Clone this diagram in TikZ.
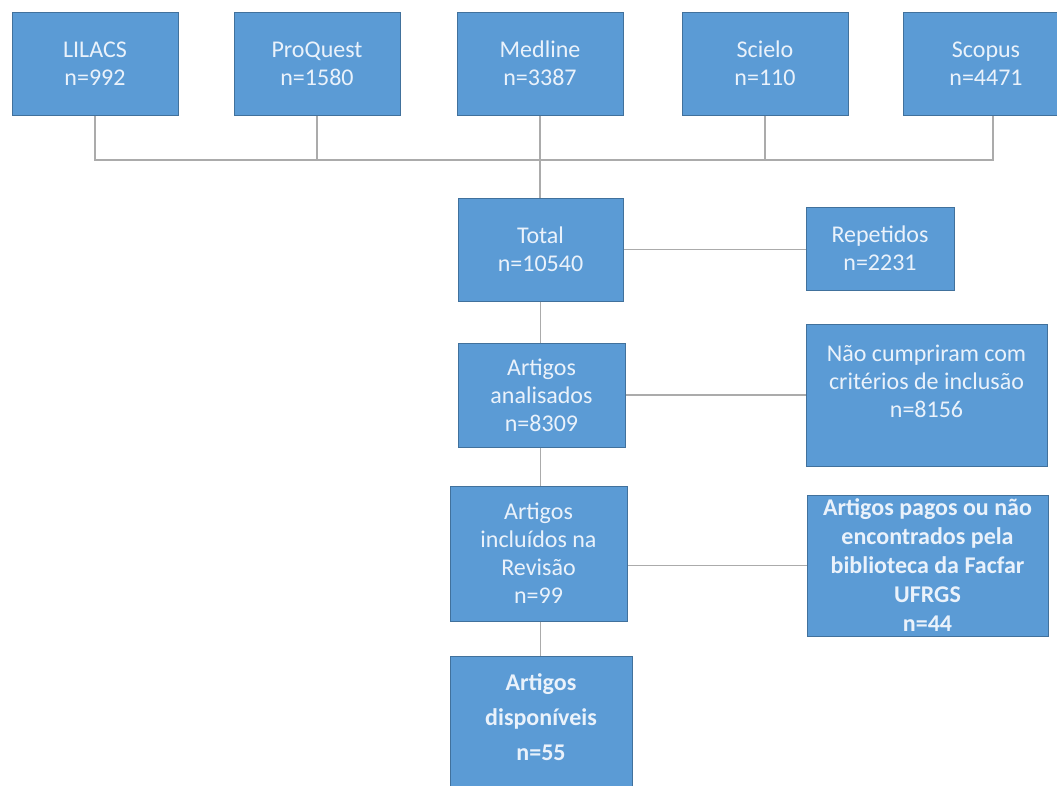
\documentclass[tikz,border=0pt]{standalone}
\usepackage{fontspec}
\setmainfont{Carlito}
\usetikzlibrary{calc}
\definecolor{boxfill}{HTML}{5B9BD5}
\definecolor{boxline}{HTML}{41719C}
\definecolor{txtc}{HTML}{EAF2FB}
\definecolor{linec}{HTML}{ABABAB}
\begin{document}
\begin{tikzpicture}[x=1pt,y=-1pt,
  box/.style={draw=boxline, line width=1pt, fill=boxfill, text=txtc, align=center,
    inner sep=0pt, font=\fontsize{24}{28}\selectfont},
  boldbox/.style={box, font=\fontsize{24}{29}\selectfont\bfseries},
  plaintext/.style={text=txtc, align=center, inner sep=0pt, font=\fontsize{24}{35}\selectfont\bfseries},
  conn/.style={draw=linec, line width=1.5pt}]
\useasboundingbox (0,0) rectangle (1057,785);
\fill[white] (0,0) rectangle (1057,785);

% top row
\node[box, minimum width=166pt, minimum height=103pt] (lilacs) at (95,63.5) {LILACS\\n=992};
\node[box, minimum width=166pt, minimum height=103pt] (proquest) at (317,63.5) {ProQuest\\n=1580};
\node[box, minimum width=166pt, minimum height=103pt] (medline) at (540,63.5) {Medline\\n=3387};
\node[box, minimum width=166pt, minimum height=103pt] (scielo) at (765,63.5) {Scielo\\n=110};
\node[box, minimum width=166pt, minimum height=103pt] (scopus) at (986,63.5) {Scopus\\n=4471};

% main column
\node[box, minimum width=165pt, minimum height=103pt] (total) at (540.5,249.5) {Total\\n=10540};
\node[box, minimum width=167pt, minimum height=104pt] (anal) at (541.5,395) {Artigos\\analisados\\n=8309};
\node[box, minimum width=177pt, minimum height=135pt] (incl) at (538.5,553.5) {Artigos\\incluídos na\\Revisão\\n=99};
\node[box, minimum width=182pt, minimum height=144pt] (disp) at (541,728) {};
\node[plaintext] (dispt) at (541,717) {Artigos\\disponíveis\\n=55};

% right column
\node[box, minimum width=148pt, minimum height=83pt] (rep) at (880,248.5) {Repetidos\\n=2231};
\node[box, minimum width=241pt, minimum height=142pt] (nao) at (926.5,395) {Não cumpriram com\\critérios de inclusão\\n=8156\\\mbox{}};
\node[boldbox, minimum width=241pt, minimum height=141pt] (pagos) at (927.5,565.5) {Artigos pagos ou não\\encontrados pela\\biblioteca da Facfar\\UFRGS\\n=44};

% connectors
\coordinate (bus) at (540,160);
\coordinate (scopusdrop) at ($(scopus.south)+(7,0)$);
\draw[conn] (lilacs.south) -- (lilacs.south |- bus) -- (scopusdrop |- bus) -- (scopusdrop);
\draw[conn] (proquest.south) -- (proquest.south |- bus);
\draw[conn] (scielo.south) -- (scielo.south |- bus);
\draw[conn] (medline.south) -- (medline.south |- total.north);
\draw[conn] (total.south) -- (total.south |- anal.north);
\draw[conn] (total.south |- anal.south) -- (total.south |- incl.north);
\draw[conn] (total.south |- incl.south) -- (total.south |- disp.north);
\draw[conn] (total.east) -- (total.east -| rep.west);
\draw[conn] (anal.east) -- (anal.east -| nao.west);
\draw[conn] (pagos.west) -- (pagos.west -| incl.east);
\end{tikzpicture}
\end{document}
